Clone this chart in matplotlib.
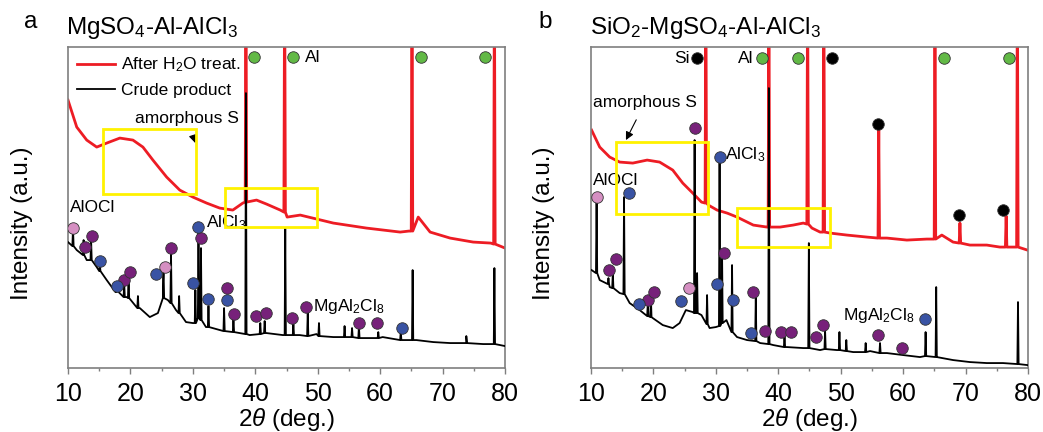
import numpy as np
import matplotlib
matplotlib.use("Agg")
import matplotlib.pyplot as plt
from matplotlib.patches import Rectangle

plt.rcParams['font.family'] = ['Liberation Sans', 'DejaVu Sans']
plt.rcParams['mathtext.fontset'] = 'custom'
plt.rcParams['mathtext.rm'] = 'Liberation Sans'
plt.rcParams['mathtext.it'] = 'Liberation Sans:italic'

RED = '#ed1c24'
YEL = '#fff200'
GREEN = '#62b946'
BLUE = '#3953a4'
PURPLE = '#77217a'
PINK = '#d58fc2'

# ---------------- panel a : MgSO4-Al-AlCl3 ----------------
# red curve (after H2O treat.) background
a_red_x = [10, 11.4, 13, 14.6, 16.2, 18.3, 20.4, 22, 23.6, 25.8, 27.9, 30, 32.2, 34.3, 36.4,
           38, 40.2, 41.8, 44, 45.1, 47.2, 52.5, 57.8, 63.2, 64.6, 66.1, 68, 71.2, 74.9, 77.7, 80]
a_red_y = [268, 241, 228, 221, 225, 230, 228, 221, 208, 191, 178, 171, 165, 160, 158,
           165, 168, 164, 158, 151, 153, 145, 140, 136, 137, 151, 136, 130, 126, 125, 120]
a_red_pk_x = [38.5, 44.7, 65.1, 78.3]
a_red_pk_top = [400, 400, 400, 400]
a_red_pk_base = [166, 156, 137, 124]

# black curve (crude product) background
a_blk_x = [10, 11.4, 13, 14.6, 16.2, 17.8, 19.4, 21.5, 23.1, 24.4, 25.2, 26, 27.3, 28.9, 30,
           32.1, 34.3, 36.4, 39.1, 41.8, 44.4, 47.1, 49.8, 52.5, 55.1, 57.8, 60.4, 63.1, 65.8,
           68.5, 71.2, 73.8, 76.5, 80]
a_blk_y = [126, 118, 108, 101, 88, 78, 71, 60, 51, 55, 81, 68, 58, 46, 45,
           41, 38, 36, 33, 35, 33, 33, 34, 31, 31, 30, 31, 28, 28,
           26, 25, 25, 24, 22]
a_blk_pk_x = [10.8, 12.5, 13.7, 15.1, 17.7, 19.0, 19.7, 21.2, 25.3, 26.5, 27.8, 30.4, 30.9, 31.3,
              32.5, 35.0, 36.5, 38.5, 40.8, 41.5, 44.8, 46.1, 48.4, 50.2, 54.3, 55.5, 56.6, 59.7,
              63.3, 65.2, 73.8, 78.3]
a_blk_pk_top = [140, 128, 128, 103, 78, 85, 92, 72, 98, 115, 72, 78, 135, 120,
                62, 60, 50, 275, 45, 47, 140, 44, 55, 45, 42, 40, 42, 36,
                37, 98, 32, 100]
a_blk_pk_base = [122, 113, 108, 97, 76, 71, 70, 60, 70, 65, 55, 45, 50, 48,
                 41, 37, 36, 34, 34, 35, 33, 33, 32, 32, 31, 31, 30, 30,
                 28, 28, 25, 24]

a_pink_x, a_pink_y = [10.8, 25.5], [140, 101]
a_purple_x = [12.7, 13.8, 19.0, 19.9, 26.5, 31.3, 35.4, 36.6, 40.1, 41.7, 45.9, 48.1, 56.6, 59.5]
a_purple_y = [121, 132, 88, 96, 120, 130, 80, 54, 52, 55, 50, 61, 45, 45]
a_blue_x = [15.1, 17.8, 24.1, 30.0, 30.8, 32.4, 35.4, 63.5]
a_blue_y = [107, 82, 94, 85, 141, 69, 68, 40]
a_green_x = [39.8, 46.0, 66.5, 76.8]
a_green_y = [311, 311, 311, 311]
a_black_x, a_black_y = [], []

# yellow boxes (x0, x1, y0, y1)
a_boxes = [(15.6, 30.5, 174, 239), (35.1, 49.9, 141, 180)]

# ---------------- panel b : SiO2-MgSO4-Al-AlCl3 ----------------
b_red_x = [10.1, 11.4, 13, 14.6, 16.7, 19, 21, 23.1, 24.7, 26.3, 27.7, 28.8, 30.2, 31.8, 33.4,
           36, 38.2, 40.3, 42.4, 44, 45.4, 46.7, 48.3, 51, 54.2, 57.4, 60.6, 63.8, 66.2, 68,
           70.7, 73.4, 75.5, 77.6, 79.9]
b_red_y = [238, 221, 211, 206, 205, 208, 206, 198, 185, 175, 166, 163, 158, 155, 151,
           143, 141, 141, 143, 145, 140, 136, 135, 133, 131, 130, 128, 129, 133, 126,
           123, 123, 121, 121, 118]
b_red_pk_x = [28.4, 38.5, 44.7, 47.3, 56.1, 65.1, 69.1, 76.5, 78.3]
b_red_pk_top = [400, 400, 400, 400, 240, 400, 145, 152, 400]
b_red_pk_base = [165, 141, 144, 136, 130, 129, 125, 121, 121]

b_blk_x = [10.1, 11.4, 13, 14.6, 16.2, 17.8, 19.9, 21.5, 23.1, 24.2, 25.2, 26.3, 27.7, 29, 30,
           31.7, 33.4, 35, 37.1, 39.2, 41.4, 44, 46.7, 49.4, 52, 54.7, 57.4, 60, 62.7, 65.4,
           68, 70.7, 73.4, 76, 79.9]
b_blk_y = [98, 88, 81, 75, 65, 58, 50, 43, 40, 45, 58, 56, 53, 40, 41,
           48, 31, 28, 25, 23, 21, 20, 18, 18, 16, 17, 15, 13, 11, 11,
           8, 6, 5, 5, 3]
b_blk_pk_x = [10.9, 12.8, 13.5, 15.3, 19.1, 19.6, 26.6, 27.0, 28.6, 30.6, 31.0, 32.6, 36.4,
              38.5, 41.0, 44.9, 47.5, 49.8, 50.9, 54.0, 56.3, 63.6, 65.3, 78.4]
b_blk_pk_top = [168, 90, 95, 171, 64, 70, 228, 95, 73, 206, 115, 103, 72,
                280, 32, 125, 38, 36, 28, 25, 25, 36, 81, 66]
b_blk_pk_base = [95, 84, 80, 74, 52, 51, 55, 55, 44, 42, 45, 36, 27,
                 24, 21, 20, 19, 18, 17, 16, 15, 12, 11, 4]

b_pink_x, b_pink_y = [11.0, 25.7], [171, 80]
b_purple_x = [26.7, 12.9, 14.0, 19.1, 20.1, 31.3, 36.0, 37.9, 40.4, 42.0, 46.0, 47.2, 56.0, 59.8]
b_purple_y = [240, 98, 109, 68, 76, 115, 76, 37, 36, 36, 31, 43, 33, 20]
b_blue_x = [16.1, 30.7, 17.7, 24.4, 30.2, 32.7, 35.6, 63.5]
b_blue_y = [175, 211, 64, 67, 84, 68, 35, 49]
b_green_x = [37.4, 43.2, 66.5, 76.9]
b_green_y = [310, 310, 310, 310]
b_black_x = [27.0, 48.6, 56.0, 68.9, 76.0]
b_black_y = [310, 310, 244, 153, 158]

b_boxes = [(14.0, 28.7, 154, 226), (33.4, 48.3, 121, 160)]


def trace(bx, by, px, ptop, pbase, hw=0.12):
    # background points plus a thin spike for every peak
    pts = list(zip(bx, by))
    for p, t, b in zip(px, ptop, pbase):
        pts += [(p - hw, b), (p, t), (p + hw, b)]
    pts.sort()
    return [q[0] for q in pts], [q[1] for q in pts]


fig = plt.figure(figsize=(10.43, 4.32), dpi=100)
axa = fig.add_axes([0.0652, 0.148, 0.419, 0.743])
axb = fig.add_axes([0.5666, 0.148, 0.419, 0.743])

panels = [
    (axa, a_red_x, a_red_y, a_red_pk_x, a_red_pk_top, a_red_pk_base,
     a_blk_x, a_blk_y, a_blk_pk_x, a_blk_pk_top, a_blk_pk_base,
     [(a_pink_x, a_pink_y, PINK), (a_purple_x, a_purple_y, PURPLE), (a_blue_x, a_blue_y, BLUE),
      (a_green_x, a_green_y, GREEN), (a_black_x, a_black_y, 'black')], a_boxes),
    (axb, b_red_x, b_red_y, b_red_pk_x, b_red_pk_top, b_red_pk_base,
     b_blk_x, b_blk_y, b_blk_pk_x, b_blk_pk_top, b_blk_pk_base,
     [(b_pink_x, b_pink_y, PINK), (b_purple_x, b_purple_y, PURPLE), (b_blue_x, b_blue_y, BLUE),
      (b_green_x, b_green_y, GREEN), (b_black_x, b_black_y, 'black')], b_boxes),
]

for (ax, rx, ry, rpx, rpt, rpb, kx, ky, kpx, kpt, kpb, marks, boxes) in panels:
    x, y = trace(rx, ry, rpx, rpt, rpb)
    ax.plot(x, y, color=RED, lw=2.0, label='After H$_2$O treat.', zorder=2)
    x, y = trace(kx, ky, kpx, kpt, kpb, hw=0.1)
    ax.plot(x, y, color='black', lw=1.3, label='Crude product', zorder=3)
    for (mx, my, c) in marks:
        ax.plot(mx, my, 'o', ms=8.3, mfc=c, mec='#333333', mew=0.6, ls='none', zorder=5)
    for (x0, x1, y0, y1) in boxes:
        ax.add_patch(Rectangle((x0, y0), x1 - x0, y1 - y0, fill=False, ec=YEL, lw=2, zorder=4))

    ax.set_xlim(10, 80)
    ax.set_ylim(0, 321)
    ax.set_xticks(np.arange(10, 81, 10))
    ax.set_xticks(np.arange(15, 80, 10), minor=True)
    ax.set_yticks([])
    ax.tick_params(axis='x', which='major', direction='out', length=4, width=1, color='#7f7f7f',
                   labelsize=18, pad=6)
    ax.tick_params(axis='x', which='minor', direction='out', length=2.5, width=1, color='#7f7f7f')
    for s in ax.spines.values():
        s.set_color('#7f7f7f')
        s.set_linewidth(1.2)
    ax.set_xlabel(r'2$\theta$ (deg.)', fontsize=17.5, labelpad=0)
    ax.set_ylabel('Intensity (a.u.)', fontsize=17.5)

axa.yaxis.set_label_coords(-0.08, 0.45)
axb.yaxis.set_label_coords(-0.082, 0.45)

# panel a texts
axa.legend(loc='upper left', bbox_to_anchor=(0.0, 1.0), frameon=False, fontsize=12.5,
           handlelength=2.2, handletextpad=0.35, labelspacing=0.5, borderpad=0.5,
           borderaxespad=0.0)
fs = 12.5
axa.text(48.0, 311, 'Al', fontsize=fs, va='center', ha='left')
axa.text(10.3, 161, 'AlOCl', fontsize=fs, va='center', ha='left')
axa.text(32.1, 145, 'AlCl$_3$', fontsize=fs, va='center', ha='left')
axa.text(49.2, 62, 'MgAl$_2$Cl$_8$', fontsize=fs, va='center', ha='left')
axa.annotate('amorphous S', xy=(30.4, 225), xytext=(29.1, 250), fontsize=fs, ha='center', va='center',
             arrowprops=dict(arrowstyle='-|>', color='black', lw=0.8, mutation_scale=12,
                             shrinkA=6, shrinkB=0))

# panel b texts
axb.text(25.8, 310, 'Si', fontsize=fs, va='center', ha='right')
axb.text(36.1, 310, 'Al', fontsize=fs, va='center', ha='right')
axb.text(10.3, 188, 'AlOCl', fontsize=fs, va='center', ha='left')
axb.text(31.4, 213, 'AlCl$_3$', fontsize=fs, va='center', ha='left')
axb.text(50.4, 53, 'MgAl$_2$Cl$_8$', fontsize=fs, va='center', ha='left')
axb.annotate('amorphous S', xy=(15.6, 228), xytext=(18.7, 266), fontsize=fs, ha='center', va='center',
             arrowprops=dict(arrowstyle='-|>', color='black', lw=0.8, mutation_scale=12,
                             shrinkA=6, shrinkB=0))

# panel letters and titles
fig.text(0.029, 0.95, 'a', fontsize=17.5, ha='center', va='center')
fig.text(0.0635, 0.935, 'MgSO$_4$-Al-AlCl$_3$', fontsize=17.5, ha='left', va='center')
fig.text(0.523, 0.95, 'b', fontsize=17.5, ha='center', va='center')
fig.text(0.5655, 0.935, 'SiO$_2$-MgSO$_4$-Al-AlCl$_3$', fontsize=17.5, ha='left', va='center')

fig.savefig('out.png', dpi=100)
